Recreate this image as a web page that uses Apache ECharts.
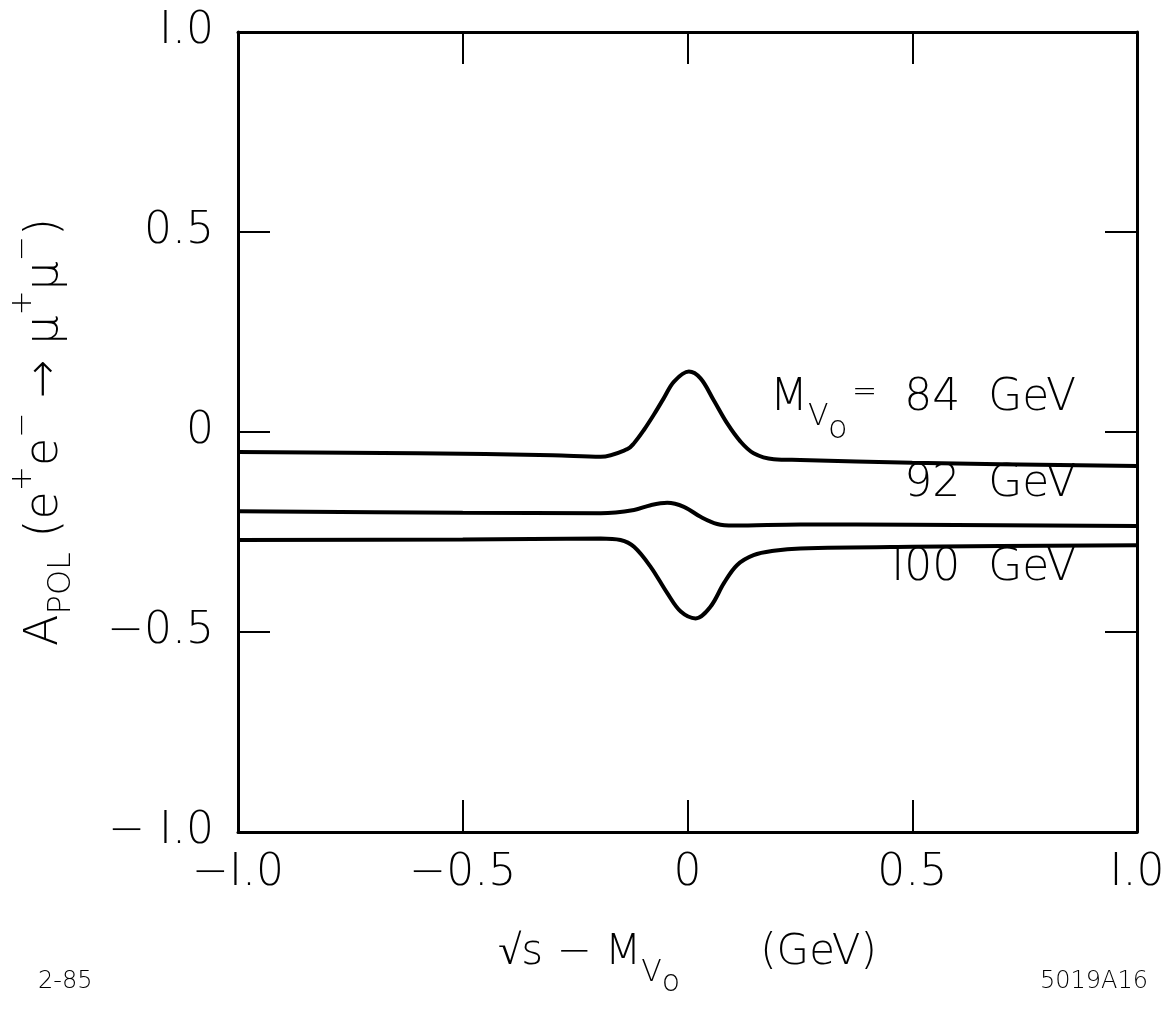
<!DOCTYPE html>
<html>
<head>
<meta charset="utf-8">
<script src="https://cdn.jsdelivr.net/npm/echarts@6/dist/echarts.min.js"></script>
<style>
  html, body { margin: 0; padding: 0; background: #fff; }
  #chart { width: 1168px; height: 1018px; }
</style>
</head>
<body>
<div id="chart"></div>
<script>
// 曲线数据
var x84 = [-1, -0.6, -0.3, -0.193, -0.134, -0.119, -0.097, -0.075, -0.053, -0.03, 0.003, 0.029, 0.058, 0.088, 0.118, 0.147, 0.192, 0.251, 0.5, 1];
var y84 = [-0.05, -0.053, -0.058, -0.062, -0.043, -0.028, 0.005, 0.043, 0.084, 0.126, 0.151, 0.134, 0.08, 0.022, -0.024, -0.053, -0.068, -0.07, -0.077, -0.085];

var x92 = [-1, -0.5, -0.193, -0.119, -0.082, -0.045, -0.008, 0.029, 0.066, 0.103, 0.251, 0.5, 1];
var y92 = [-0.198, -0.202, -0.203, -0.195, -0.183, -0.177, -0.187, -0.212, -0.23, -0.234, -0.231, -0.232, -0.235];

var x100 = [-1, -0.5, -0.193, -0.149, -0.119, -0.082, -0.045, -0.015, 0.018, 0.051, 0.081, 0.11, 0.147, 0.192, 0.251, 0.5, 1];
var y100 = [-0.27, -0.269, -0.266, -0.27, -0.287, -0.337, -0.403, -0.449, -0.466, -0.437, -0.378, -0.333, -0.308, -0.297, -0.291, -0.287, -0.283];

var xTicks = {'-1': '\u2212I.0', '-0.5': '\u22120.5', '0': '0', '0.5': '0.5', '1': 'I.0'};
var yTicks = {'-1': '\u2212 I.0', '-0.5': '\u22120.5', '0': '0', '0.5': '0.5', '1': 'I.0'};

function pairs(xs, ys) {
    var out = [];
    for (var i = 0; i < xs.length; i++) out.push([xs[i], ys[i]]);
    return out;
}

var font = 'DejaVu Sans';
var fw = 200;
var myChart = echarts.init(document.getElementById('chart'));

var lineStyle = { color: '#000', width: 4 };
function curve(name, xs, ys) {
    return {
        name: name, type: 'line', data: pairs(xs, ys),
        smooth: 0.35, symbol: 'none', lineStyle: lineStyle,
        xAxisIndex: 0, yAxisIndex: 0, silent: true
    };
}

var frameLine = { show: true, onZero: false, lineStyle: { color: '#000', width: 3 } };
var tickIn = { show: true, inside: true, length: 32, lineStyle: { color: '#000', width: 2 } };

function txt(s, size) {
    return { text: s, font: fw + ' ' + size + 'px "DejaVu Sans"', fill: '#000' };
}

var option = {
    backgroundColor: '#fff',
    animation: false,
    grid: { left: 237, right: 31, top: 32, bottom: 186 },
    xAxis: [
        {
            type: 'value', min: -1, max: 1, interval: 0.5, position: 'bottom',
            axisLine: frameLine, axisTick: tickIn, splitLine: { show: false },
            axisLabel: {
                color: '#000', fontFamily: font, fontWeight: fw, fontSize: 44, margin: 20,
                formatter: function (v) { return xTicks[String(v)]; }
            },
            name: '{t|\u221As \u2212 M}{s|V}{ss|o}{t|      (GeV)}',
            nameLocation: 'middle', nameGap: 100,
            nameTextStyle: {
                rich: {
                    t: { fontFamily: font, fontWeight: fw, fontSize: 42, color: '#000' },
                    s: { fontFamily: font, fontWeight: fw, fontSize: 30, color: '#000', verticalAlign: 'bottom', padding: [0, 0, -14, 0] },
                    ss: { fontFamily: font, fontWeight: fw, fontSize: 30, color: '#000', verticalAlign: 'bottom', padding: [0, 0, -24, 0] }
                }
            }
        },
        {
            type: 'value', min: -1, max: 1, interval: 0.5, position: 'top',
            axisLine: frameLine, axisTick: tickIn, axisLabel: { show: false }, splitLine: { show: false }
        }
    ],
    yAxis: [
        {
            type: 'value', min: -1, max: 1, interval: 0.5, position: 'left',
            axisLine: frameLine, axisTick: tickIn, splitLine: { show: false },
            axisLabel: {
                color: '#000', fontFamily: font, fontWeight: fw, fontSize: 44, margin: 24,
                formatter: function (v) { return yTicks[String(v)]; }
            },
            name: '{t|A}{s|POL}{t| (e}{u|+}{t|e}{u|\u2212}{t| \u2192 \u03BC}{u|+}{t|\u03BC}{u|\u2212}{t|)}',
            nameLocation: 'middle', nameRotate: 90, nameGap: 170,
            nameTextStyle: {
                rich: {
                    t: { fontFamily: font, fontWeight: fw, fontSize: 46, color: '#000' },
                    s: { fontFamily: font, fontWeight: fw, fontSize: 32, color: '#000', verticalAlign: 'bottom', padding: [0, 0, -10, 0] },
                    u: { fontFamily: font, fontWeight: fw, fontSize: 30, color: '#000', verticalAlign: 'top', padding: [-14, 0, 0, 0] }
                }
            }
        },
        {
            type: 'value', min: -1, max: 1, interval: 0.5, position: 'right',
            axisLine: frameLine, axisTick: tickIn, axisLabel: { show: false }, splitLine: { show: false }
        }
    ],
    graphic: [
        { type: 'text', left: 770, top: 377, style: txt('M', 44) },
        { type: 'text', left: 808, top: 402, style: txt('V', 30) },
        { type: 'text', left: 828, top: 414, style: txt('o', 32) },
        { type: 'text', left: 852, top: 378, style: txt('=', 30) },
        { type: 'text', right: 92, top: 377, style: txt('84  GeV', 44) },
        { type: 'text', right: 92, top: 463, style: txt('92  GeV', 44) },
        { type: 'text', right: 92, top: 547, style: txt('I00  GeV', 44) },
        { type: 'text', left: 38, top: 970, style: txt('2-85', 24) },
        { type: 'text', right: 20, top: 970, style: txt('5019A16', 24) }
    ],
    series: [
        curve('84 GeV', x84, y84),
        curve('92 GeV', x92, y92),
        curve('100 GeV', x100, y100)
    ]
};

myChart.setOption(option, true);

window.onresize = function () {
    setTimeout(function () { myChart.resize(); }, 50);
};
</script>
</body>
</html>
